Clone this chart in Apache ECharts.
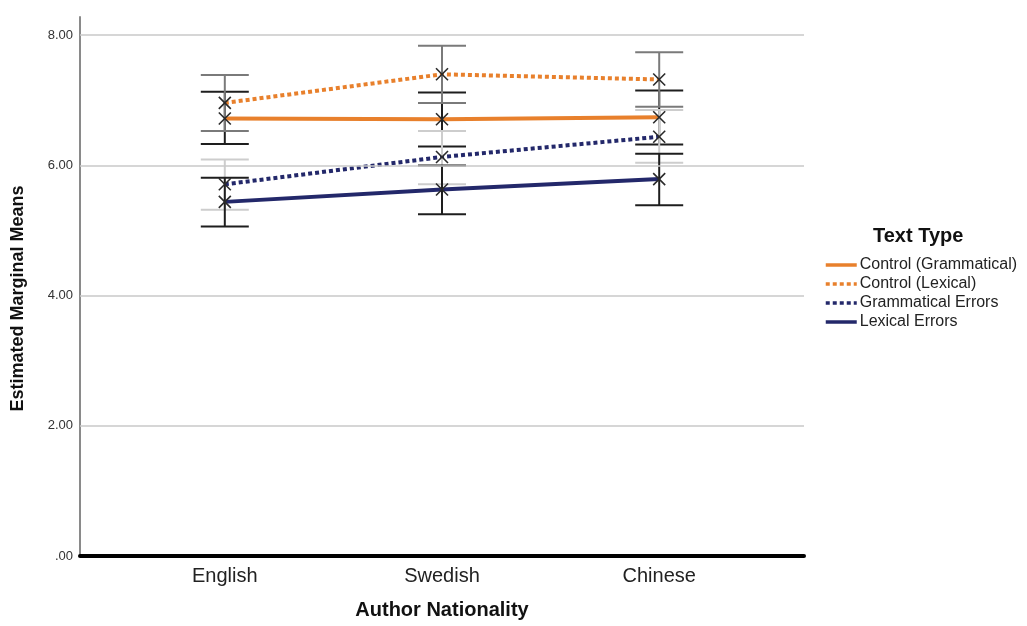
<!DOCTYPE html>
<html>
<head>
<meta charset="utf-8">
<script src="https://cdn.jsdelivr.net/npm/echarts@6/dist/echarts.min.js"></script>
<style>
html,body{margin:0;padding:0;background:#fff;}
#chart{width:1027px;height:626px;}
</style>
</head>
<body>
<div id="chart"></div>
<script>
// ---- data ----
const categories = ['English', 'Swedish', 'Chinese'];
const seriesNames = ['Control (Grammatical)', 'Control (Lexical)', 'Grammatical Errors', 'Lexical Errors'];
const cgMean = [6.72, 6.71, 6.74];
const cgLow  = [6.33, 6.29, 6.32];
const cgHigh = [7.13, 7.12, 7.15];
const clMean = [6.96, 7.40, 7.32];
const clLow  = [6.53, 6.96, 6.90];
const clHigh = [7.39, 7.84, 7.74];
const geMean = [5.71, 6.13, 6.44];
const geLow  = [5.32, 5.71, 6.04];
const geHigh = [6.09, 6.53, 6.85];
const leMean = [5.44, 5.63, 5.79];
const leLow  = [5.06, 5.25, 5.39];
const leHigh = [5.81, 6.00, 6.18];
const yTicks = [0, 2, 4, 6, 8];

const FONT = '"Liberation Sans", Arial, Helvetica, sans-serif';
const ORANGE = '#e8802c';
const NAVY = '#23286a';

// category i sits at slot 2 + 3*i on a 0..10 axis (2/3 category gap at each end)
const xPos = i => 2 + 3 * i;

const groups = [
  {name: seriesNames[0], mean: cgMean, low: cgLow, high: cgHigh, color: ORANGE, dotted: false, bar: '#1e1e1e'},
  {name: seriesNames[1], mean: clMean, low: clLow, high: clHigh, color: ORANGE, dotted: true,  bar: '#7a7a7a'},
  {name: seriesNames[2], mean: geMean, low: geLow, high: geHigh, color: NAVY,   dotted: true,  bar: '#cdcdcd'},
  {name: seriesNames[3], mean: leMean, low: leLow, high: leHigh, color: NAVY,   dotted: false, bar: '#1e1e1e'}
];

const series = [];

// gridlines
series.push({
  type: 'line', name: '_grid', data: [], silent: true, z: 1,
  markLine: {
    silent: true, symbol: 'none', label: {show: false},
    lineStyle: {color: '#c9c9c9', width: 1.5, type: 'solid'},
    data: yTicks.filter(v => v > 0).map(v => ({yAxis: v}))
  }
});

groups.forEach(g => {
  series.push({
    type: 'line', name: g.name, z: 3,
    data: categories.map((c, i) => [xPos(i), g.mean[i]]),
    symbol: 'none', showSymbol: false,
    lineStyle: {color: g.color, width: 4, type: g.dotted ? [4, 3] : 'solid', cap: 'butt'},
    itemStyle: {color: g.color}
  });
});

groups.forEach(g => {
  series.push({
    type: 'custom', name: g.name + '_err', z: 4, silent: true,
    data: categories.map((c, i) => [xPos(i), g.mean[i], g.low[i], g.high[i]]),
    encode: {x: 0, y: [1, 2, 3]},
    renderItem: function (params, api) {
      const x = api.value(0);
      const lo = api.coord([x, api.value(2)]);
      const hi = api.coord([x, api.value(3)]);
      const hw = 24;
      const st = {stroke: g.bar, lineWidth: 2};
      return {type: 'group', children: [
        {type: 'line', shape: {x1: lo[0], y1: lo[1], x2: hi[0], y2: hi[1]}, style: st},
        {type: 'line', shape: {x1: hi[0] - hw, y1: hi[1], x2: hi[0] + hw, y2: hi[1]}, style: st},
        {type: 'line', shape: {x1: lo[0] - hw, y1: lo[1], x2: lo[0] + hw, y2: lo[1]}, style: st}
      ]};
    }
  });
});

// X markers
const markerData = [];
groups.forEach(g => categories.forEach((c, i) => markerData.push([xPos(i), g.mean[i]])));
series.push({
  type: 'custom', name: '_markers', z: 6, silent: true,
  data: markerData,
  encode: {x: 0, y: 1},
  renderItem: function (params, api) {
    const p = api.coord([api.value(0), api.value(1)]);
    const s = 6;
    const st = {stroke: '#2a2a2a', lineWidth: 1.6};
    return {type: 'group', children: [
      {type: 'line', shape: {x1: p[0] - s, y1: p[1] - s, x2: p[0] + s, y2: p[1] + s}, style: st},
      {type: 'line', shape: {x1: p[0] - s, y1: p[1] + s, x2: p[0] + s, y2: p[1] - s}, style: st}
    ]};
  }
});

const chart = echarts.init(document.getElementById('chart'), null, {renderer: 'canvas'});
chart.setOption({
  backgroundColor: '#ffffff',
  animation: false,
  textStyle: {fontFamily: FONT},
  title: {
    text: 'Text Type', left: 873, top: 226, padding: 0,
    textStyle: {fontFamily: FONT, fontSize: 20, fontWeight: 'bold', color: '#111'}
  },
  legend: {
    data: seriesNames,
    orient: 'vertical', left: 824, top: 257,
    itemWidth: 31, itemHeight: 8, itemGap: 3, padding: 0,
    itemStyle: {opacity: 0, borderWidth: 0},
    lineStyle: {width: 3.5},
    textStyle: {fontFamily: FONT, fontSize: 16, color: '#222', padding: [0, 0, 0, -2]},
    selectedMode: false
  },
  grid: {left: 80, right: 223, top: 17, bottom: 70, containLabel: false, outerBoundsMode: 'none'},
  xAxis: {
    type: 'value', min: 0, max: 10, interval: 1,
    name: 'Author Nationality', nameLocation: 'middle', nameGap: 44,
    nameTextStyle: {fontFamily: FONT, fontSize: 20, fontWeight: 'bold', color: '#111'},
    axisLine: {show: true, onZero: false, lineStyle: {color: '#000', width: 4}},
    axisTick: {show: false},
    splitLine: {show: false},
    axisLabel: {
      fontFamily: FONT, fontSize: 20, color: '#222', margin: 10,
      showMinLabel: true, showMaxLabel: true,
      formatter: v => {
        const k = (v - 2) / 3;
        return (Number.isInteger(k) && k >= 0 && k < categories.length) ? categories[k] : '';
      }
    }
  },
  yAxis: {
    type: 'value', min: 0, max: 8.28, interval: 2,
    name: 'Estimated Marginal Means', nameLocation: 'middle', nameGap: 53, nameRotate: 90,
    nameTextStyle: {fontFamily: FONT, fontSize: 18, fontWeight: 'bold', color: '#111', padding: [0, 24, 0, 0]},
    axisLine: {show: true, lineStyle: {color: '#8a8a8a', width: 2}},
    axisTick: {show: false},
    splitLine: {show: false},
    axisLabel: {
      fontFamily: FONT, fontSize: 13, color: '#333', margin: 7,
      showMaxLabel: false,
      formatter: v => (v === 0 ? '.00' : (yTicks.indexOf(v) >= 0 ? v.toFixed(2) : ''))
    }
  },
  series: series
});
</script>
</body>
</html>
